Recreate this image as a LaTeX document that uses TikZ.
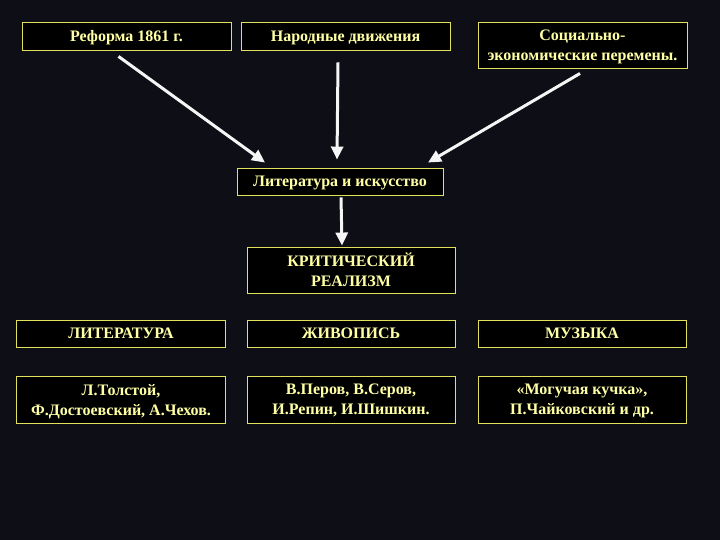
\documentclass[tikz,border=0pt]{standalone}
\usepackage{fontspec}
\setmainfont{Liberation Serif}
\usetikzlibrary{arrows.meta}
\definecolor{bgdark}{RGB}{14,14,22}
\definecolor{boxline}{RGB}{225,225,90}
\definecolor{boxtext}{RGB}{255,255,165}
\begin{document}
\begin{tikzpicture}[
x=1pt, y=1pt,
box/.style={
draw=boxline,
line width=0.9pt,
fill=black,
text=boxtext,
inner sep=0pt,
text depth=0pt,
minimum width=209pt,
minimum height=28pt,
align=center,
font=\fontsize{16}{20}\selectfont\bfseries
},
tall/.style={minimum height=46pt},
arrow/.style={-{Triangle[length=13pt,width=12pt]}, line width=3pt, draw=white!92!gray}
]
\fill[bgdark] (0,0) rectangle (720,-540);
\useasboundingbox (0,0) rectangle (720,-540);
% top row
\node[box] (ref) at (126.5,-36) {Реформа 1861 г.};
\node[box] (nar) at (345.5,-36) {Народные движения};
\node[box, tall] (soc) at (582.5,-45) {Социально-\\экономические перемены.};
% middle
\node[box, minimum width=206pt, minimum height=27pt] (lit) at (340,-181.5) {Литература и искусство};
\node[box, tall, minimum width=208pt] (krit) at (351,-270) {КРИТИЧЕСКИЙ\\РЕАЛИЗМ};
% arts
\node[box, minimum height=27pt] (litr) at (121,-333.5) {ЛИТЕРАТУРА};
\node[box, minimum height=27pt, minimum width=208pt] (zhiv) at (351,-333.5) {ЖИВОПИСЬ};
\node[box, minimum height=27pt, minimum width=208pt] (muz) at (582,-333.5) {МУЗЫКА};
\node[box, minimum height=47pt] (tol) at (121,-399.5) {Л.Толстой,\\Ф.Достоевский, А.Чехов.};
\node[box, minimum height=47pt, minimum width=208pt] (per) at (351,-399.5) {В.Перов, В.Серов,\\И.Репин, И.Шишкин.};
\node[box, minimum height=47pt, minimum width=208pt] (mog) at (582,-399.5) {«Могучая кучка»,\\П.Чайковский и др.};
% arrows
\draw[arrow] ([shift={(-8,-6)}]ref.south) -- ([shift={(-75,5)}]lit.north);
\draw[arrow] ([shift={(-7.5,-12)}]nar.south) -- ([shift={(-3,8)}]lit.north);
\draw[arrow] ([shift={(-2.5,-5)}]soc.south) -- ([shift={(88,5)}]lit.north);
\draw[arrow] ([shift={(1,-2)}]lit.south) -- ([shift={(-9,1)}]krit.north);
\end{tikzpicture}
\end{document}
